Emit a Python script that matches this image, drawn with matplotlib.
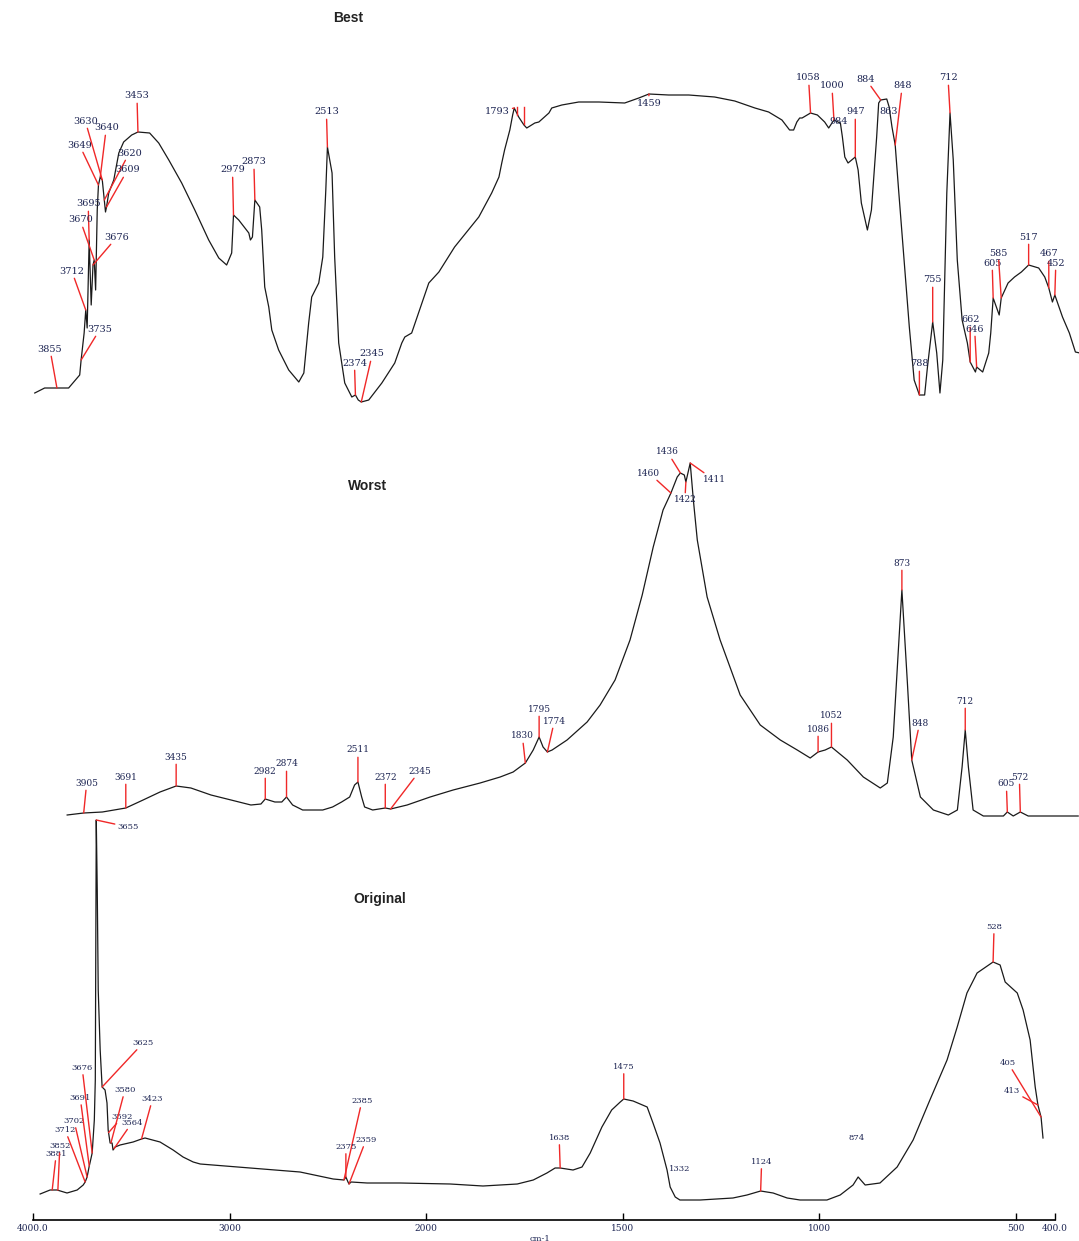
import numpy as np
import matplotlib
matplotlib.use("Agg")
import matplotlib.pyplot as plt

# ---- data: wavenumber (cm-1) and signal height (a.u.) ----
best_wn = [3965, 3916, 3855, 3797, 3742, 3735, 3720, 3712, 3705, 3695, 3685, 3676, 3670,
           3663, 3655, 3649, 3640, 3630, 3620, 3614, 3609, 3598, 3573, 3548, 3524, 3484,
           3453, 3395, 3350, 3300, 3236, 3171, 3102, 3052, 3013, 2988, 2979, 2953, 2903,
           2895, 2885, 2873, 2849, 2839, 2824, 2804, 2789, 2755, 2705, 2655, 2630, 2606,
           2591, 2556, 2536, 2521, 2513, 2490, 2477, 2457, 2427, 2392, 2374, 2360, 2345,
           2308, 2243, 2179, 2144, 2129, 2095, 2010, 1980, 1941, 1881, 1849, 1831, 1824,
           1817, 1804, 1797, 1793, 1782, 1769, 1762, 1742, 1732, 1707, 1700, 1675, 1633,
           1583, 1519, 1484, 1459, 1410, 1360, 1296, 1246, 1196, 1162, 1129, 1110, 1100,
           1092, 1085, 1079, 1058, 1041, 1023, 1013, 1000, 990, 984, 979, 973, 965, 947,
           940, 932, 917, 907, 894, 889, 884, 869, 863, 856, 848, 839, 826, 813, 801, 788,
           775, 768, 755, 745, 737, 730, 720, 712, 704, 694, 682, 669, 662, 649, 646, 631,
           616, 611, 605, 590, 585, 568, 552, 535, 517, 492, 477, 467, 458, 452, 433, 416,
           401, 390]
best_val = [7, 12, 12, 12, 25, 40, 67, 90, 72, 160, 95, 135, 140,
            110, 190, 215, 223, 220, 200, 188, 193, 207, 220, 247, 258, 265,
            268, 267, 257, 240, 217, 190, 160, 142, 135, 147, 185, 180, 167,
            160, 163, 200, 193, 170, 113, 93, 70, 50, 30, 18, 27, 77,
            103, 117, 143, 210, 253, 227, 143, 57, 17, 3, 5, 0, -2,
            0, 17, 37, 57, 63, 67, 117, 128, 153, 183, 207, 223, 237,
            250, 270, 285, 292, 283, 275, 272, 277, 278, 287, 292, 295, 298,
            298, 297, 302, 306, 305, 305, 303, 299, 292, 288, 280, 270, 270,
            278, 282, 282, 287, 285, 278, 272, 280, 278, 277, 263, 243, 237, 243,
            230, 197, 170, 190, 263, 297, 300, 301, 293, 273, 255, 207, 140, 73, 20, 5,
            5, 33, 78, 47, 7, 40, 207, 287, 240, 140, 80, 57, 38, 28, 33, 28,
            47, 67, 102, 85, 102, 117, 123, 128, 135, 132, 123, 112, 98, 105, 83, 67,
            48, 47]

worst_wn = [3989, 3905, 3810, 3691, 3603, 3517, 3435, 3360, 3258, 3156, 3055, 3004, 2982,
            2933, 2898, 2874, 2843, 2792, 2690, 2640, 2594, 2553, 2528, 2511, 2492, 2477,
            2436, 2372, 2345, 2261, 2144, 2027, 1945, 1894, 1861, 1830, 1810, 1795, 1785,
            1774, 1762, 1724, 1673, 1640, 1602, 1564, 1533, 1505, 1480, 1460, 1444, 1436,
            1426, 1422, 1411, 1403, 1393, 1368, 1335, 1284, 1233, 1182, 1139, 1106, 1086,
            1068, 1052, 1012, 971, 928, 910, 895, 882, 873, 859, 848, 826, 793, 755, 732,
            720, 712, 704, 692, 666, 615, 605, 590, 572, 552, 504, 425]
worst_val = [5, 7, 8, 12, 20, 28, 34, 32, 25, 20, 15, 16, 21,
             18, 18, 23, 15, 10, 10, 13, 18, 23, 35, 38, 23, 13,
             10, 12, 11, 15, 23, 30, 37, 43, 48, 57, 70, 83, 73,
             68, 70, 80, 98, 115, 140, 180, 225, 273, 310, 327, 343, 347,
             345, 338, 357, 320, 280, 223, 180, 125, 95, 80, 70, 62, 68,
             70, 73, 60, 43, 32, 37, 83, 170, 230, 137, 60, 23, 10, 5, 10,
             53, 90, 53, 10, 4, 4, 8, 4, 8, 4, 4, 4]

orig_wn = [3943, 3892, 3856, 3805, 3753, 3722, 3712, 3702, 3692, 3676, 3665, 3660, 3655,
           3650, 3645, 3635, 3625, 3610, 3600, 3594, 3584, 3574, 3569, 3558, 3533, 3466,
           3423, 3405, 3328, 3261, 3210, 3158, 3122, 2866, 2610, 2440, 2385, 2375, 2364,
           2359, 2348, 2266, 2097, 1920, 1836, 1748, 1707, 1672, 1651, 1638, 1605, 1582,
           1561, 1531, 1506, 1484, 1475, 1451, 1415, 1400, 1382, 1364, 1356, 1343, 1331,
           1279, 1195, 1159, 1124, 1092, 1056, 1023, 954, 920, 887, 874, 856, 818, 774,
           733, 690, 646, 620, 595, 569, 528, 510, 497, 466, 451, 433, 420, 413, 405, 400]
orig_val = [26, 30, 30, 27, 30, 35, 38, 43, 53, 67, 100, 140, 400,
            330, 230, 170, 133, 130, 117, 90, 77, 77, 70, 73, 75, 78,
            81, 82, 78, 70, 63, 58, 56, 52, 48, 41, 40, 43, 38,
            36, 38, 37, 37, 36, 34, 36, 40, 47, 52, 52, 50, 53,
            67, 93, 110, 118, 121, 119, 113, 97, 77, 50, 33, 23, 20,
            20, 22, 25, 29, 27, 22, 20, 20, 25, 35, 43, 35, 37, 53,
            80, 120, 160, 193, 227, 247, 258, 255, 238, 227, 210, 180, 133, 115, 103, 82]

best_peaks = [3855, 3735, 3712, 3695, 3676, 3670, 3649, 3640, 3630, 3620, 3609, 3453,
              2979, 2873, 2513, 2374, 2345, 1793, 1459, 1058, 1000, 984, 947, 884, 863,
              848, 788, 755, 712, 662, 646, 605, 585, 517, 467, 452]
worst_peaks = [3905, 3691, 3435, 2982, 2874, 2511, 2372, 2345, 1830, 1795, 1774, 1460,
               1436, 1422, 1411, 1086, 1052, 873, 848, 712, 605, 572]
orig_peaks = [3881, 3852, 3712, 3702, 3691, 3676, 3655, 3625, 3592, 3580, 3564, 3423,
              2385, 2375, 2359, 1638, 1475, 1332, 1124, 874, 528, 413, 405]
best_extra_ticks = [1785, 1770]

xticks = [4000, 3000, 2000, 1500, 1000, 500, 400]
xtick_labels = ["4000.0", "3000", "2000", "1500", "1000", "500", "400.0"]

# ---- layout: label offsets in pixels (dx right, dy up) ----
best_offsets = [(-7, 39), (19, 31), (-14, 39), (-1, 36), (24, 28), (-14, 40), (-19, 40),
                (6, 49), (-17, 59), (25, 47), (21, 37), (-1, 36), (-1, 45), (-1, 38),
                (-1, 35), (-1, 32), (11, 48), (-17, -4), (0, -9), (-2, 35), (-2, 34),
                (-2, 2), (0, 45), (-15, 21), (-1, -5), (7, 59), (0, 31), (0, 42),
                (-2, 35), (0, 42), (-2, 38), (-1, 35), (-3, 45), (0, 28), (0, 34), (1, 32)]
best_noline = {984, 863}
worst_offsets = [(3, 30), (0, 31), (0, 29), (0, 28), (0, 33), (0, 32), (0, 31), (29, 38),
                 (-3, 27), (0, 28), (7, 31), (-22, 20), (-13, 21), (-1, -18), (24, -17),
                 (0, 23), (0, 31), (0, 27), (8, 37), (0, 29), (-1, 28), (-1, 35)]
orig_offsets = [(4, 36), (2, 44), (-20, 52), (-13, 56), (-9, 68), (-10, 85), (32, -7),
                (41, 44), (14, 16), (14, 53), (18, 26), (11, 40), (18, 79), (0, 30),
                (17, 44), (-1, 30), (0, 32), (0, 31), (1, 29), (-2, 39), (1, 35),
                (-26, 14), (-33, 54)]
orig_noline = {1332, 874}

W, H = 1079, 1241
LABEL_COLOR = "#1c2452"
LINE_RED = "#f02828"


def fwd(w):
    w = np.asarray(w, dtype=float)
    return np.where(w > 2000, 2000 + (w - 2000) / 2.0, w)


def inv(f):
    f = np.asarray(f, dtype=float)
    return np.where(f > 2000, 2000 + 2.0 * (f - 2000), f)


def px_axes(fig, left, right, top, bottom):
    return fig.add_axes([left / W, 1 - bottom / H, (right - left) / W, (bottom - top) / H])


def draw_panel(ax, wn, val, peaks, offsets, noline=(), fsize=7, lw=0.9):
    ax.set_xscale("function", functions=(fwd, inv))
    ax.plot(wn, val, color="#1a1a1a", lw=lw, clip_on=False)
    ax.set_xlim(4000, 400)
    xs = np.array(wn[::-1], dtype=float)
    ys = np.array(val[::-1], dtype=float)
    for p, (dx, dy) in zip(peaks, offsets):
        yp = np.interp(p, xs, ys)
        kw = {}
        if p not in noline:
            kw["arrowprops"] = dict(arrowstyle="-", color=LINE_RED, lw=1.0,
                                    shrinkA=0, shrinkB=0)
        ax.annotate(str(p), xy=(p, yp), xytext=(dx, dy), textcoords="offset pixels",
                    ha="center", va="center", fontsize=fsize, family="DejaVu Serif",
                    color=LABEL_COLOR, annotation_clip=False, **kw)
    ax.axis("off")


fig = plt.figure(figsize=(W / 100, H / 100), dpi=100)

ax_best = px_axes(fig, 27.7, 1075.8, 60, 400)
ax_best.set_ylim(0, 340)
draw_panel(ax_best, best_wn, best_val, best_peaks, best_offsets, best_noline, fsize=7)
for t in best_extra_ticks:
    yt = np.interp(t, best_wn[::-1], best_val[::-1])
    ax_best.plot([t, t], [yt, 293], color=LINE_RED, lw=1.0, clip_on=False)

ax_worst = px_axes(fig, 65, 1088, 440, 820)
ax_worst.set_ylim(0, 380)
draw_panel(ax_worst, worst_wn, worst_val, worst_peaks, worst_offsets, fsize=6.5)

ax_orig = px_axes(fig, 29, 1043, 810, 1220)
ax_orig.set_ylim(0, 410)
draw_panel(ax_orig, orig_wn, orig_val, orig_peaks, orig_offsets, orig_noline, fsize=6)

# shared wavenumber axis drawn at the bottom
ax_x = px_axes(fig, 33, 1055, 1219, 1220)
ax_x.set_xscale("function", functions=(fwd, inv))
ax_x.set_xlim(4000, 400)
for s in ["top", "left", "right"]:
    ax_x.spines[s].set_visible(False)
ax_x.spines["bottom"].set_linewidth(1.2)
ax_x.set_yticks([])
ax_x.set_xticks(xticks)
ax_x.set_xticklabels(xtick_labels)
ax_x.xaxis.set_minor_locator(matplotlib.ticker.NullLocator())
ax_x.tick_params(axis="x", direction="in", length=5, width=1, pad=3,
                 labelsize=6.5, labelcolor="#1c2452")
for lab in ax_x.get_xticklabels():
    lab.set_family("DejaVu Serif")
fig.text(540 / W, 1 - 1239 / H, "cm-1", fontsize=6, family="DejaVu Serif",
         ha="center", va="center", color="#1c2452")

for name, x, y in [("Best", 348, 18), ("Worst", 368, 486), ("Original", 380, 899)]:
    fig.text(x / W, 1 - y / H, name, ha="center", va="center", fontsize=10,
             fontweight="bold", family="Liberation Sans", color="#222222")

fig.savefig("out.png", dpi=100)
